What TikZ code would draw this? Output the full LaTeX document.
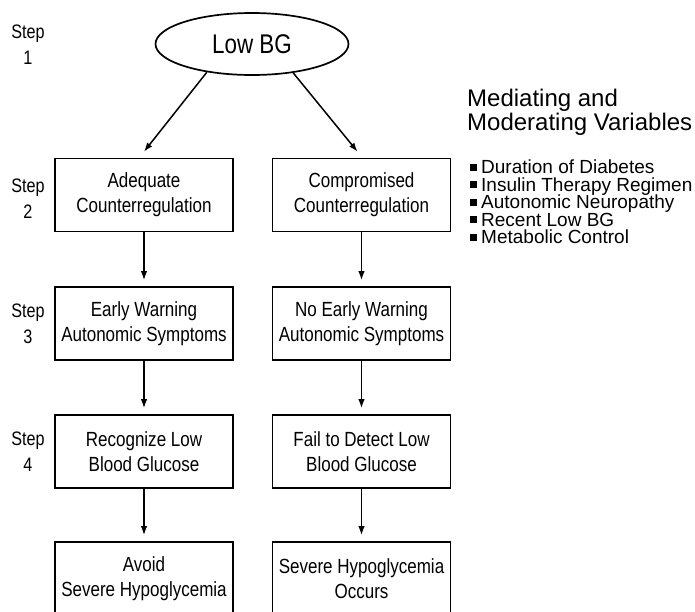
\documentclass[tikz,border=0pt]{standalone}
\usepackage{fontspec}
\setmainfont{Liberation Sans}
\newfontfamily\narrowfont[FakeStretch=0.83]{Liberation Sans}
\usetikzlibrary{arrows.meta,shapes.geometric,calc}
\begin{document}
\begin{tikzpicture}[x=1pt,y=-1pt,
  boxnode/.style={draw,line width=1.7pt,minimum width=178pt,minimum height=73pt,align=center,inner sep=0pt,
    font=\narrowfont\fontsize{20.5}{25}\selectfont},
  steplabel/.style={align=center,inner sep=0pt,font=\narrowfont\fontsize{19.5}{26}\selectfont},
  arr/.style={line width=1.5pt,-{Latex[length=9pt,width=6.5pt]}},
  hdr/.style={anchor=base west,inner sep=0pt,font=\fontsize{24}{25}\selectfont},
  itemtxt/.style={anchor=base west,inner sep=0pt,font=\fontsize{19}{20}\selectfont},
  bulletsq/.style={fill=black,inner sep=0pt,minimum size=7pt}
]
\useasboundingbox (0,0) rectangle (695,611);
\clip (0,0) rectangle (695,611);
\node[draw,ellipse,line width=1.7pt,minimum width=193pt,minimum height=62pt,inner sep=0pt,
  font=\narrowfont\fontsize{27}{28}\selectfont] (low) at (252,44) {Low BG};
\node[steplabel] (s1) at (28,45) {Step\\1};
\node[boxnode] (a2) at (144,195) {Adequate\\Counterregulation};
\node[boxnode] (b2) at (361.5,195) {Compromised\\Counterregulation};
\node[boxnode] (a3) at (144,323.5) {Early Warning\\Autonomic Symptoms};
\node[boxnode] (b3) at (361.5,323.5) {No Early Warning\\Autonomic Symptoms};
\node[boxnode] (a4) at (144,451.5) {Recognize Low\\Blood Glucose};
\node[boxnode] (b4) at (361.5,451.5) {Fail to Detect Low\\Blood Glucose};
\node[boxnode] (a5) at (144,578.5) {Avoid\\Severe Hypoglycemia};
\node[boxnode] (b5) at (361.5,578.5) {Severe Hypoglycemia\\Occurs};
\node[steplabel] (s2) at (28,199) {Step\\2};
\node[steplabel] (s3) at (28,323.5) {Step\\3};
\node[steplabel] (s4) at (28,451.5) {Step\\4};
\coordinate (ta2) at ($(a2.north)+(0,-6)$);
\coordinate (tb2) at ($(b2.north)+(-4,-6)$);
\draw[arr] (low.212) -- (ta2);
\draw[arr] (low.325) -- (tb2);
\foreach \u/\v in {a2/a3,a3/a4,a4/a5,b2/b3,b3/b4,b4/b5}{
  \coordinate (t\v) at ($(\v.north)+(0,-6)$);
  \draw[arr] (\u.south) -- (t\v);
}
\node[hdr] (h1) at (467,106) {Mediating and};
\node[hdr] (h2) at (467,130) {Moderating Variables};
\foreach \t [count=\i] in {Duration of Diabetes,Insulin Therapy Regimen,Autonomic Neuropathy,Recent Low BG,Metabolic Control}{
  \node[bulletsq] (q\i) at (473.5,173.5+17.5*\i-17.5-6.5) {};
  \node[itemtxt] (i\i) at (481,173.5+17.5*\i-17.5) {\t};
}
\end{tikzpicture}
\end{document}
